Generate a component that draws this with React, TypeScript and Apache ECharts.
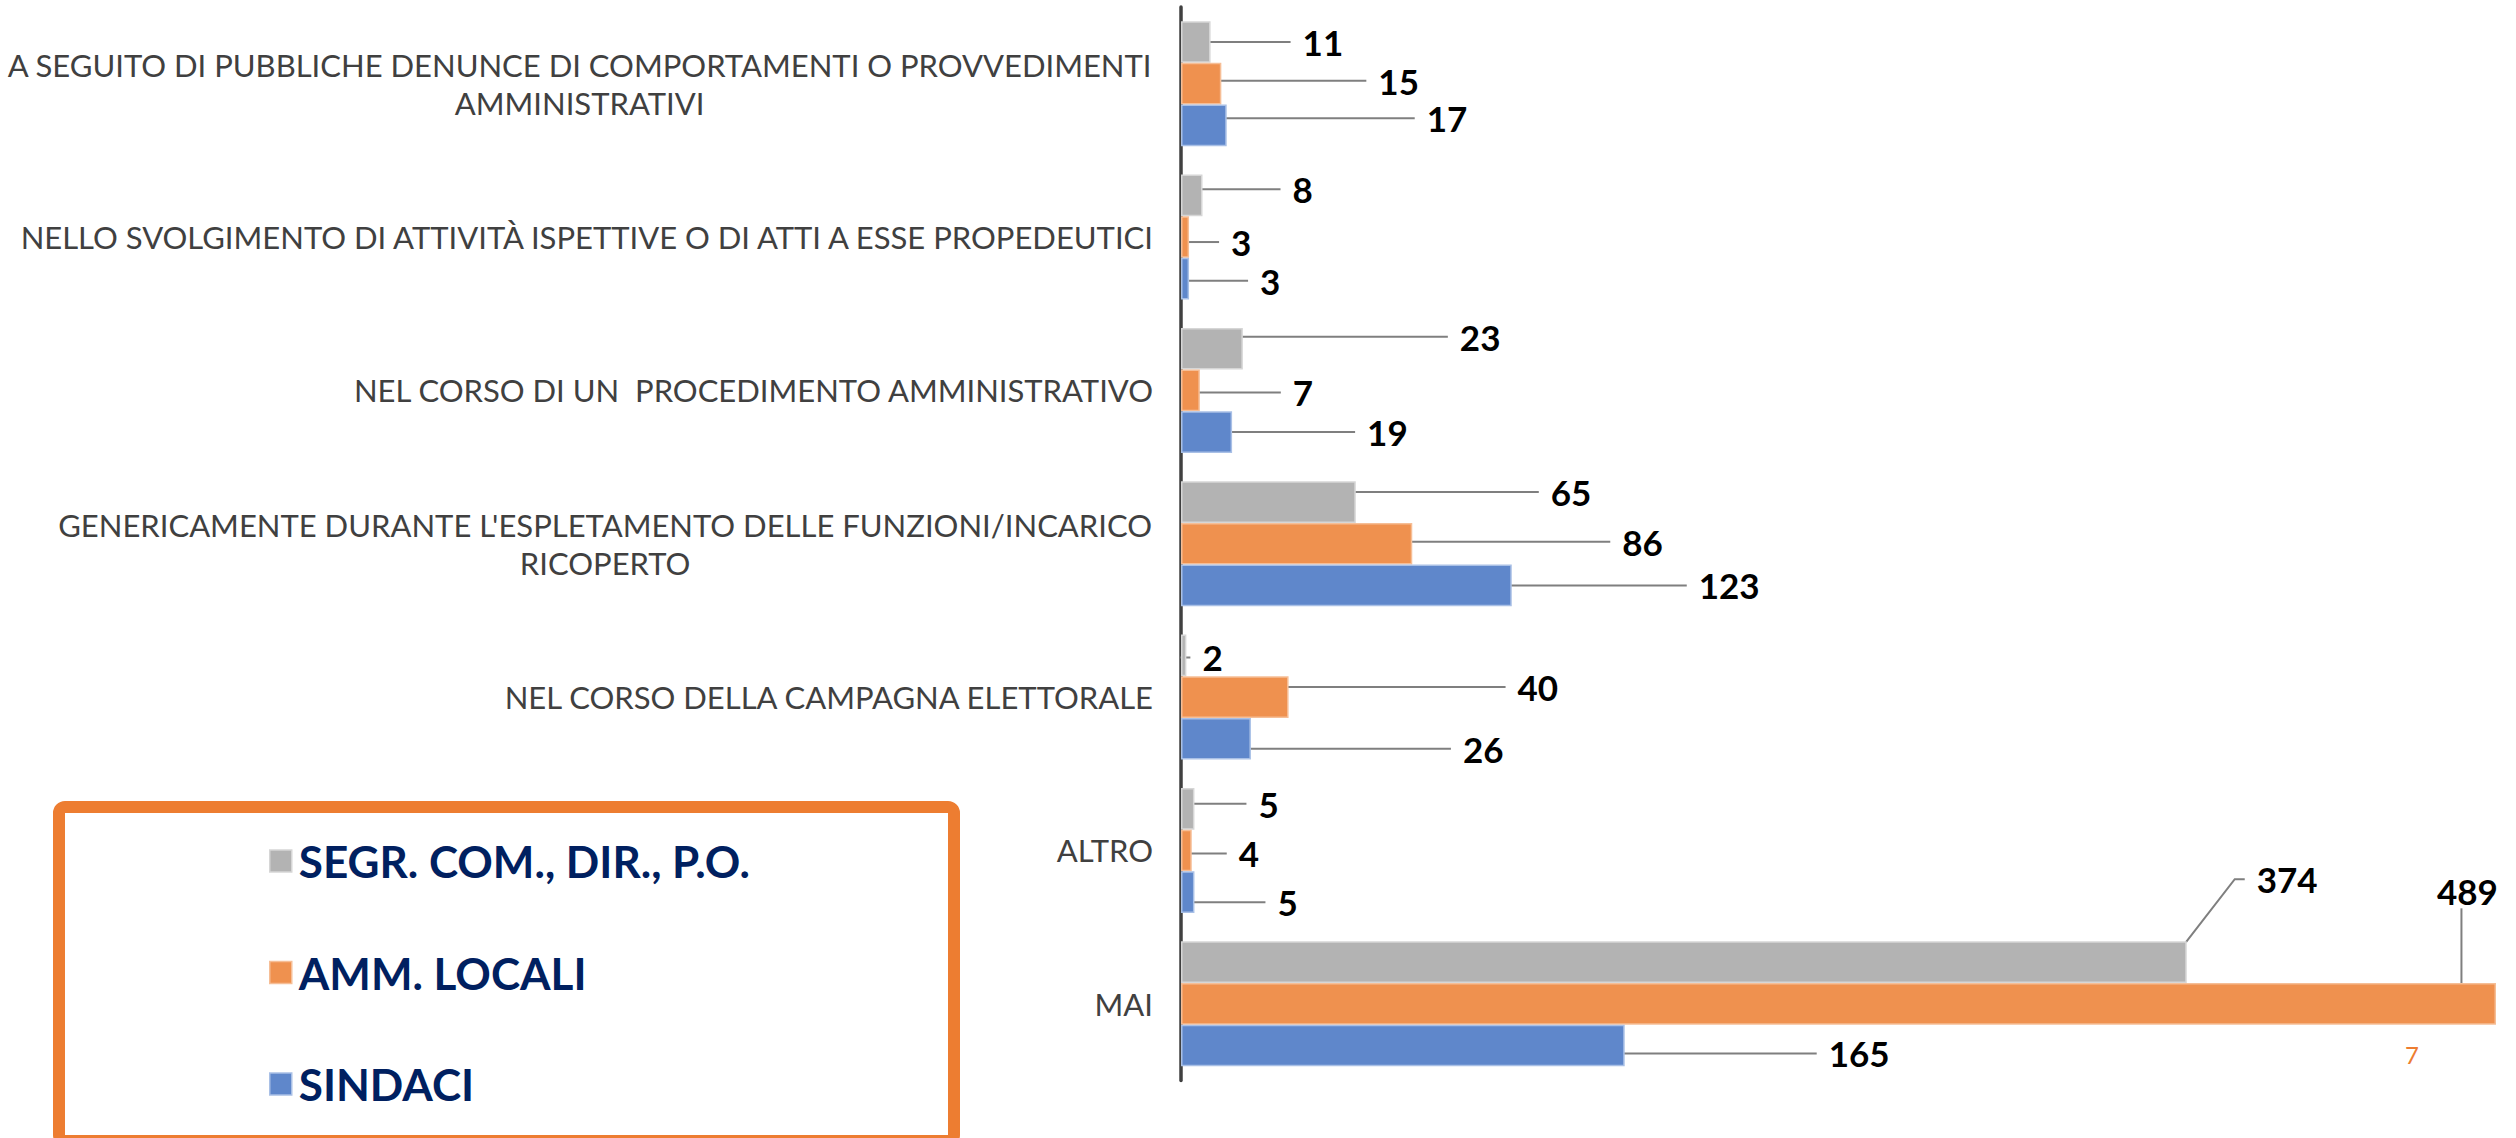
import React, { useEffect, useRef } from "react";
import * as echarts from "echarts";

const categories = [
  "A SEGUITO DI PUBBLICHE DENUNCE DI COMPORTAMENTI O PROVVEDIMENTI\nAMMINISTRATIVI",
  "NELLO SVOLGIMENTO DI ATTIVITÀ ISPETTIVE O DI ATTI A ESSE PROPEDEUTICI",
  "NEL CORSO DI UN  PROCEDIMENTO AMMINISTRATIVO",
  "GENERICAMENTE DURANTE L'ESPLETAMENTO DELLE FUNZIONI/INCARICO\nRICOPERTO",
  "NEL CORSO DELLA CAMPAGNA ELETTORALE",
  "ALTRO",
  "MAI",
];

const seriesNames = ["SEGR. COM., DIR., P.O.", "AMM. LOCALI", "SINDACI"];
const segrValues = [11, 8, 23, 65, 2, 5, 374];
const ammValues = [15, 3, 7, 86, 40, 4, 489];
const sindaciValues = [17, 3, 19, 123, 26, 5, 165];

// label displacement (px) from the bar end, as placed in the original
const segrLabelOffsets = [[92, 0], [90, -6], [217, -12], [195, -10], [16, 2], [64, -5], [70, -83]];
const ammLabelOffsets = [[157, -3], [42, 5], [93, 2], [210, -2], [229, -10], [47, 3], [-59, -113]];
const sindaciLabelOffsets = [[200, -7], [71, 2], [135, 0], [187, 0], [212, 10], [83, 10], [204, 8]];

const colors = ["#B3B3B3", "#EF914F", "#5F87CB"];
const borderColors = ["#D6D6D6", "#F6BE96", "#A9C0E6"];

const AXIS_FONT = "Lato";
const AXIS_SIZE = 31;
const LABEL_GAP = 12;

export default function App() {
  const ref = useRef<HTMLDivElement>(null);

  useEffect(() => {
    if (!ref.current) return;
    const chart = echarts.init(ref.current, null, { renderer: "svg" });

    const canvas = document.createElement("canvas");
    const ctx = canvas.getContext("2d")!;
    ctx.font = `${AXIS_SIZE}px ${AXIS_FONT}`;
    const rich: Record<string, any> = {};
    categories.forEach((c, i) => {
      const lines = c.split("\n");
      const w = Math.max(...lines.map((l) => ctx.measureText(l).width)) + 2;
      rich["c" + i] = {
        width: w,
        align: "center",
        fontFamily: AXIS_FONT,
        fontSize: AXIS_SIZE,
        color: "#404040",
        lineHeight: 38,
      };
    });

    const valuesList = [segrValues, ammValues, sindaciValues];
    const offsetsList = [segrLabelOffsets, ammLabelOffsets, sindaciLabelOffsets];

    const series = valuesList.map((vals, s) => ({
      name: seriesNames[s],
      type: "bar",
      data: vals,
      barGap: "0%",
      barCategoryGap: "18.5%",
      itemStyle: { color: colors[s], borderColor: borderColors[s], borderWidth: 1.5 },
      label: {
        show: true,
        position: "right",
        distance: 0,
        formatter: (p: any) => `{s| }{v|${p.value}}`,
        rich: {
          s: { width: LABEL_GAP, fontSize: 34, fontFamily: AXIS_FONT },
          v: {
            fontFamily: AXIS_FONT,
            fontWeight: "bold",
            fontSize: 35,
            color: "#000000",
          },
        },
      },
      labelLine: {
        show: true,
        length2: 10,
        lineStyle: { color: "#7F7F7F", width: 2 },
      },
      labelLayout: (params: any) => {
        const o = offsetsList[s][params.dataIndex];
        return { dx: o[0] - LABEL_GAP, dy: o[1] };
      },
    }));

    chart.setOption({
      animation: false,
      backgroundColor: "#ffffff",
      grid: { left: 1181, right: 20, top: 7, bottom: 57.5, containLabel: false },
      xAxis: {
        type: "value",
        min: 0,
        max: 489,
        show: false,
      },
      yAxis: {
        type: "category",
        inverse: true,
        data: categories,
        axisLine: { show: true, lineStyle: { color: "#404040", width: 3.5 } },
        axisTick: { show: false },
        splitLine: { show: false },
        axisLabel: {
          margin: 28,
          fontFamily: AXIS_FONT,
          fontSize: AXIS_SIZE,
          color: "#404040",
          lineHeight: 38,
          align: "right",
          formatter: (value: string, index: number) => {
            const lines = value.split("\n");
            if (lines.length === 1) return value;
            return lines.map((l) => `{c${index}|${l}}`).join("\n");
          },
          rich,
        },
      },
      legend: {
        orient: "vertical",
        left: 264,
        top: 832,
        icon: "rect",
        itemWidth: 22,
        itemHeight: 22,
        itemGap: 63.5,
        itemStyle: { borderWidth: 1.5 },
        textStyle: {
          fontFamily: AXIS_FONT,
          fontWeight: "bold",
          fontSize: 44,
          color: "#002060",
          lineHeight: 48,
          padding: [0, 0, 0, 2],
        },
        data: seriesNames,
      },
      graphic: [
        {
          type: "rect",
          shape: { x: 59, y: 807, width: 895, height: 334, r: 6 },
          style: { fill: "none", stroke: "#ED7D31", lineWidth: 12 },
          z: 0,
        },
        {
          type: "text",
          left: 2405,
          top: 1042,
          style: { text: "7", fontFamily: AXIS_FONT, fontSize: 24, fill: "#ED7D31" },
        },
      ],
      series,
    });

    return () => chart.dispose();
  }, []);

  return (
    <div
      ref={ref}
      style={{ position: "absolute", left: 0, top: 0, width: 2516, height: 1138 }}
    />
  );
}
